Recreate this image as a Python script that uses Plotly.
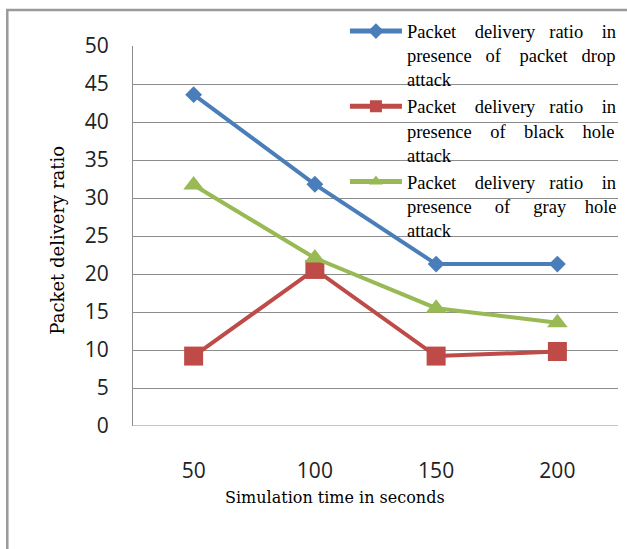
import plotly.graph_objects as go

# Simulation time (s) and packet delivery ratio per attack type
sim_times = ["50", "100", "150", "200"]
pdr_packet_drop = [43.6, 31.8, 21.3, 21.3]
pdr_black_hole = [9.2, 20.6, 9.2, 9.8]
pdr_gray_hole = [31.7, 22.1, 15.5, 13.6]
y_ticks = [0, 5, 10, 15, 20, 25, 30, 35, 40, 45, 50]

NB = "\u00a0"


def justify(words, gaps):
    """Join words with a given number of non-breaking spaces per gap."""
    out = words[0]
    for w, g in zip(words[1:], gaps):
        out += NB * g + w
    return out


legend_names = [
    justify(["Packet", "delivery", "ratio", "in"], [4, 3, 4]) + "<br>"
    + justify(["presence", "of", "packet", "drop"], [3, 4, 3]) + "<br>attack",
    justify(["Packet", "delivery", "ratio", "in"], [4, 3, 4]) + "<br>"
    + justify(["presence", "of", "black", "hole"], [4, 4, 4]) + "<br>attack",
    justify(["Packet", "delivery", "ratio", "in"], [4, 3, 4]) + "<br>"
    + justify(["presence", "of", "gray", "hole"], [5, 5, 4]) + "<br>attack",
]

series = [
    (pdr_packet_drop, "#4A7EBB", "diamond", 13),
    (pdr_black_hole, "#BE4B48", "square", 19),
    (pdr_gray_hole, "#98B954", "triangle-up", 18),
]

fig = go.Figure()
for (vals, color, sym, size), name in zip(series, legend_names):
    fig.add_trace(go.Scatter(
        x=sim_times, y=vals, name=name, mode="lines+markers",
        line=dict(color=color, width=4),
        marker=dict(symbol=sym, size=size, color=color),
    ))

fig.update_layout(
    width=627, height=549,
    margin=dict(l=133, r=5, t=46, b=123),
    paper_bgcolor="white", plot_bgcolor="white",
    showlegend=True,
    legend=dict(
        x=0.437, y=1.088, xanchor="left", yanchor="top",
        bgcolor="rgba(0,0,0,0)", borderwidth=0,
        font=dict(family="Liberation Serif", size=18.5, color="black"),
        valign="top", itemwidth=52, itemsizing="constant",
        tracegroupgap=0,
    ),
    xaxis=dict(
        type="category", range=[-0.5, 3.5], showgrid=False, zeroline=False,
        showline=False, ticks="",
        tickfont=dict(family="Open Sans", size=21, color="#222"),
        ticklabelstandoff=30,
    ),
    yaxis=dict(
        range=[0, 50], tickvals=y_ticks, showgrid=True,
        gridcolor="#8C8C8C", gridwidth=1, zeroline=False,
        showline=True, linecolor="#8C8C8C", linewidth=1, ticks="",
        tickfont=dict(family="Open Sans", size=21, color="#222"),
        ticklabelstandoff=19,
    ),
    shapes=[
        dict(type="rect", xref="paper", yref="paper",
             x0=-0.2592, x1=1.3, y0=-0.6, y1=1.0947,
             line=dict(color="#9A9A9A", width=2.5), layer="below"),
        dict(type="line", xref="paper", yref="y",
             x0=0, x1=1, y0=0, y1=0,
             line=dict(color="#8C8C8C", width=1), layer="below"),
    ],
    annotations=[
        dict(text="Packet delivery ratio", xref="paper", yref="paper",
             x=-0.155, y=0.49, xanchor="center", yanchor="middle",
             textangle=-90, showarrow=False,
             font=dict(family="DejaVu Serif", size=18, color="black")),
        dict(text="Simulation time in seconds", xref="paper", yref="paper",
             x=0.416, y=-0.188, xanchor="center", yanchor="middle",
             showarrow=False,
             font=dict(family="DejaVu Serif", size=16, color="black")),
    ],
)

fig.write_html("out.html")
